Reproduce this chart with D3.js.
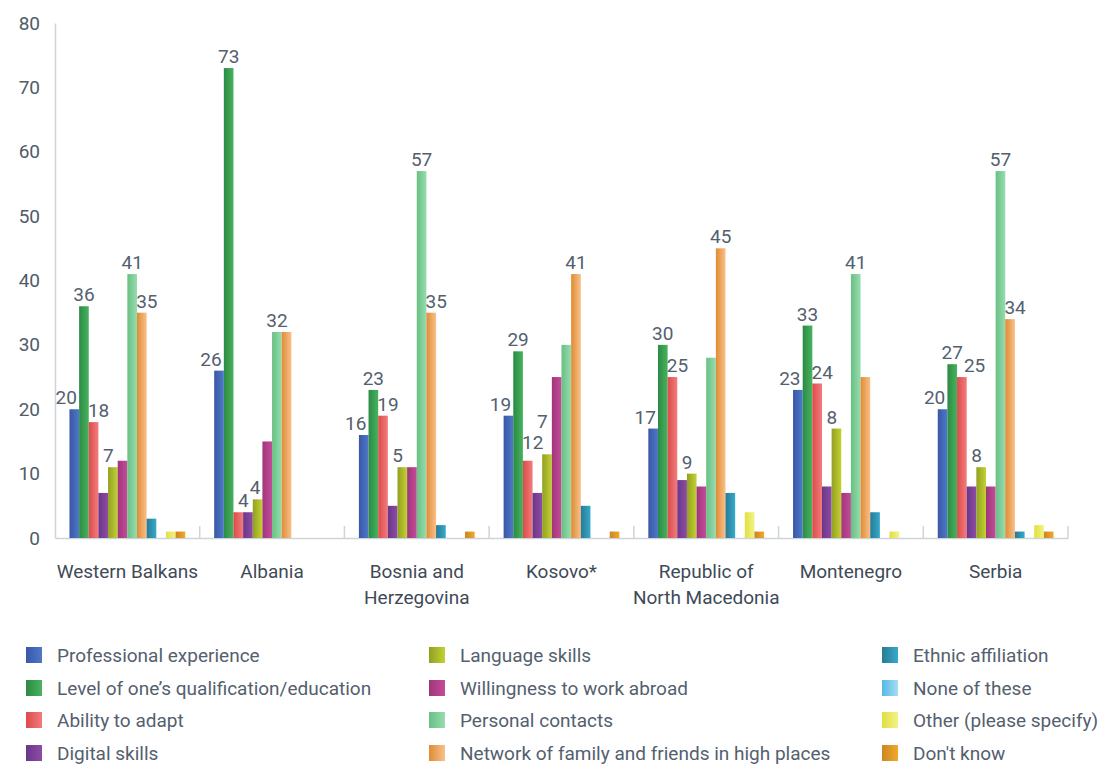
<!DOCTYPE html>
<html><head><meta charset="utf-8">
<script src="https://cdn.jsdelivr.net/npm/d3@7"></script>
<style>
body{margin:0;background:#fff;}
text{font-family:Roboto,"Noto Sans",sans-serif;}
</style></head>
<body><svg id="chart" width="1100" height="764"></svg>
<script>
const categories = ["Western Balkans","Albania","Bosnia and Herzegovina","Kosovo*","Republic of North Macedonia","Montenegro","Serbia"];
const categoryLines = [["Western Balkans"],["Albania"],["Bosnia and","Herzegovina"],["Kosovo*"],["Republic of","North Macedonia"],["Montenegro"],["Serbia"]];
const series = ["Professional experience","Level of one’s qualification/education","Ability to adapt","Digital skills","Language skills","Willingness to work abroad","Personal contacts","Network of family and friends in high places","Ethnic affiliation","None of these","Other (please specify)","Don't know"];
// values per category, in series order
const westernBalkans = [20,36,18,7,11,12,41,35,3,0,1,1];
const albania        = [26,73,4,4,6,15,32,32,0,0,0,0];
const bosnia         = [16,23,19,5,11,11,57,35,2,0,0,1];
const kosovo         = [19,29,12,7,13,25,30,41,5,0,0,1];
const northMacedonia = [17,30,25,9,10,8,28,45,7,0,4,1];
const montenegro     = [23,33,24,8,17,7,41,25,4,0,1,0];
const serbia         = [20,27,25,8,11,8,57,34,1,0,2,1];
const values = [westernBalkans,albania,bosnia,kosovo,northMacedonia,montenegro,serbia];
// which bars carry a value label (1 = labelled)
const labelled = [
  [1,1,1,1,0,0,1,1,0,0,0,0],
  [1,1,1,1,0,0,1,0,0,0,0,0],
  [1,1,1,1,0,0,1,1,0,0,0,0],
  [1,1,1,1,0,0,0,1,0,0,0,0],
  [1,1,1,1,0,0,0,1,0,0,0,0],
  [1,1,1,1,0,0,1,0,0,0,0,0],
  [1,1,1,1,0,0,1,1,0,0,0,0]
];
const yTicks = [0,10,20,30,40,50,60,70,80];
const colorsDark  = ["#3b56a6","#2b8a44","#dc4b4b","#6b3787","#939f22","#a0367a","#68c082","#df8c34","#2a7a93","#55b8e8","#e0e040","#c98625"];
const colorsLight = ["#4d79c9","#47b35f","#f27c7c","#8c4ca6","#c2d232","#c44c99","#98dcb0","#f9c08a","#35aacb","#a6ddf3","#f2f286","#f2a92a"];

const svg = d3.select("#chart");
const pL = 55, pR = 1068, pT = 23, pB = 538;
const axisColor = "#cfd4d9", textColor = "#54606e";
const fs = 19;

const x0 = d3.scaleBand().domain(categories).range([pL, pR]).padding(0);
const x1 = d3.scaleBand().domain(series).range([0, x0.bandwidth()]).paddingInner(0).paddingOuter(1.5);
const y = d3.scaleLinear().domain([0,80]).range([pB, pT]);

// gradients
const defs = svg.append("defs");
series.forEach((s,i)=>{
  const g = defs.append("linearGradient").attr("id","g"+i).attr("x1","0").attr("x2","1").attr("y1","0").attr("y2","0");
  g.append("stop").attr("offset","0").attr("stop-color",colorsDark[i]);
  g.append("stop").attr("offset","1").attr("stop-color",colorsLight[i]);
});

// y axis
const yAxis = d3.axisLeft(y).tickValues(yTicks).tickSize(0).tickPadding(15);
const ya = svg.append("g").attr("transform",`translate(${pL},0)`).call(yAxis);
ya.select(".domain").attr("stroke",axisColor).attr("stroke-width",1.5);
ya.selectAll("text").attr("font-size",fs).attr("fill","#4f5b68").attr("font-family","Roboto");

// x axis
const xa = svg.append("g").attr("transform",`translate(0,${pB})`)
  .call(d3.axisBottom(x0).tickSize(0).tickFormat(""));
xa.select(".domain").attr("stroke",axisColor).attr("stroke-width",1.5);
xa.selectAll(".tick").remove();
const bounds = categories.map(c=>x0(c)).concat([pR]);
svg.append("g").selectAll("line").data(bounds.slice(1)).join("line")
  .attr("x1",d=>d).attr("x2",d=>d).attr("y1",pB).attr("y2",pB-12)
  .attr("stroke",axisColor).attr("stroke-width",1.5);

// category labels
const cl = svg.append("g").selectAll("text").data(categories).join("text")
  .attr("x",d=>x0(d)+x0.bandwidth()/2).attr("y",578)
  .attr("text-anchor","middle").attr("font-size",fs).attr("fill","#3f4a57");
cl.each(function(d,i){
  const t = d3.select(this);
  categoryLines[i].forEach((line,k)=>{
    t.append("tspan").attr("x",x0(d)+x0.bandwidth()/2).attr("dy",k===0?0:26).text(line);
  });
});

// bars
const groups = svg.append("g").selectAll("g").data(categories).join("g")
  .attr("transform",d=>`translate(${x0(d)},0)`);
groups.each(function(c,gi){
  d3.select(this).selectAll("rect").data(values[gi].map((v,i)=>({v,i})).filter(d=>d.v>0)).join("rect")
    .attr("x",d=>x1(series[d.i])).attr("width",x1.bandwidth())
    .attr("y",d=>y(d.v)).attr("height",d=>y(0)-y(d.v))
    .attr("fill",d=>`url(#g${d.i})`);
});

// value labels with simple overlap avoidance
const labelLayer = svg.append("g");
const bw = x1.bandwidth();
const gap = 5, boxUp = 17, boxDown = 4;
categories.forEach((c,gi)=>{
  const vals = values[gi];
  const placed = [];
  const barBase = (xl,xr,v)=>{
    let b = y(v)-gap;
    vals.forEach((v2,j)=>{
      const bx = x0(c)+x1(series[j]);
      if(bx < xr-1 && bx+bw > xl+1) b = Math.min(b, y(v2)-gap);
    });
    return b;
  };
  const hits = (xl,xr,b)=>placed.filter(p=>p.xl < xr+1 && p.xr > xl-1 && (p.b-boxUp) < (b+boxDown) && (p.b+boxDown) > (b-boxUp));
  const pushUp = (xl,xr,b)=>{
    let h = hits(xl,xr,b);
    while(h.length){
      b = Math.min(...h.map(p=>p.b-boxUp)) - boxDown - 0.5;
      h = hits(xl,xr,b);
    }
    return b;
  };
  vals.forEach((v,i)=>{
    if(!labelled[gi][i]) return;
    const lv = i>0 ? vals[i-1] : -Infinity;
    const rv = i<vals.length-1 ? vals[i+1] : -Infinity;
    const shift = (i>0 && lv>=v) ? 5 : (rv>v ? -8 : 0);
    let cx = x0(c)+x1(series[i])+bw/2+shift;
    const t = labelLayer.append("text").attr("text-anchor","middle").attr("font-size",fs)
      .attr("fill",textColor).text(v);
    const w = t.node().getComputedTextLength();
    let b = barBase(cx-w/2, cx+w/2, v);
    const h = hits(cx-w/2, cx+w/2, b);
    if(h.length){
      // option B: move up
      const bB = pushUp(cx-w/2, cx+w/2, b);
      // option A: slide right a little
      const sh = Math.max(...h.map(p=>p.xr+1-(cx-w/2)));
      let bA = -Infinity;
      if(sh <= 10){
        const cxA = cx+sh;
        bA = pushUp(cxA-w/2, cxA+w/2, barBase(cxA-w/2, cxA+w/2, v));
      }
      if(bA > bB){ cx = cx+sh; b = bA; } else { b = bB; }
    }
    placed.push({xl:cx-w/2, xr:cx+w/2, b});
    t.attr("x",cx).attr("y",b);
  });
});

// legend
const legCols = [26, 429, 882];
const legRows = [655, 688, 720, 753];
const leg = svg.append("g").selectAll("g").data(series).join("g")
  .attr("transform",(d,i)=>`translate(${legCols[Math.floor(i/4)]},${legRows[i%4]})`);
leg.append("rect").attr("x",0).attr("y",-8).attr("width",16).attr("height",16)
  .attr("fill",(d,i)=>`url(#g${i})`);
leg.append("text").attr("x",31).attr("y",6.5).attr("font-size",fs).attr("fill",textColor).text(d=>d);
</script></body></html>
